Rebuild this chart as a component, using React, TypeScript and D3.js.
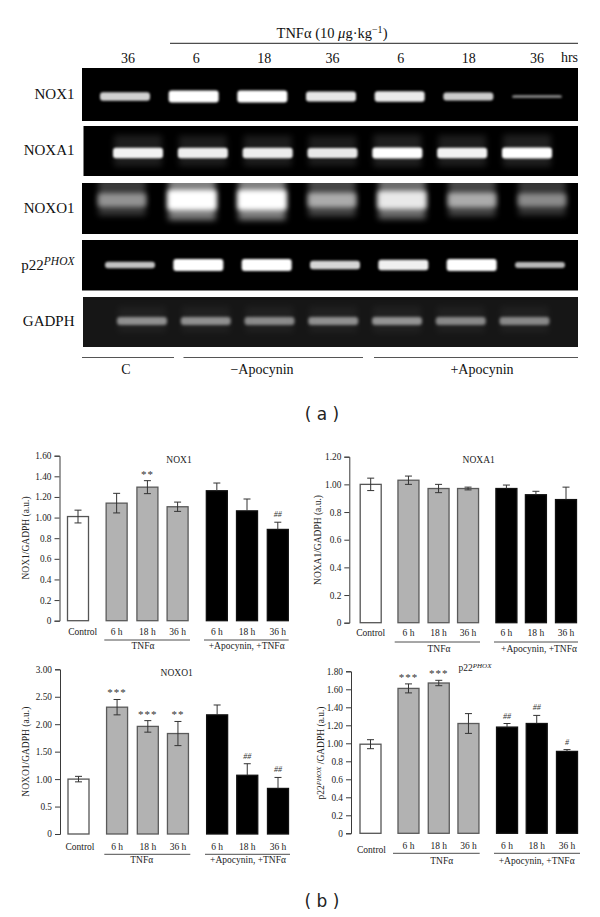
import React, { useEffect, useRef } from "react";
import * as d3 from "d3";

// ---------- data: gel ----------
const laneHours = ["36", "6", "18", "36", "6", "18", "36"];
const nox1Bands = [0.82, 1, 1, 0.9, 0.92, 0.8, 0.5];
const noxa1Bands = [0.95, 0.92, 0.92, 0.9, 1, 0.95, 1];
const noxo1Bands = [0.45, 1, 1, 0.55, 0.85, 0.55, 0.42];
const p22Bands = [0.76, 1, 1, 0.84, 0.94, 1, 0.72];
const gadphBands = [0.5, 0.5, 0.48, 0.5, 0.52, 0.47, 0.47];

// ---------- data: bar charts ----------
const categories = ["Control", "6 h", "18 h", "36 h", "6 h", "18 h", "36 h"];
const nox1Values = [1.01, 1.14, 1.295, 1.105, 1.26, 1.065, 0.885];
const nox1Errors = [0.062, 0.095, 0.063, 0.045, 0.075, 0.115, 0.07];
const nox1Marks = ["", "", "**", "", "", "", "##"];
const nox1Ticks = [0, 0.2, 0.4, 0.6, 0.8, 1, 1.2, 1.4, 1.6];
const nox1TickLabels = ["0", "0.2", "0.4", "0.6", "0.8", "1.00", "1.20", "1.40", "1.60"];

const noxa1Values = [1.0, 1.03, 0.97, 0.97, 0.97, 0.925, 0.89];
const noxa1Errors = [0.045, 0.03, 0.03, 0.01, 0.025, 0.025, 0.09];
const noxa1Marks = ["", "", "", "", "", "", ""];
const noxa1Ticks = [0, 0.2, 0.4, 0.6, 0.8, 1, 1.2];
const noxa1TickLabels = ["0", "0.2", "0.4", "0.6", "0.8", "1.00", "1.20"];

const noxo1Values = [1.0, 2.31, 1.96, 1.83, 2.17, 1.07, 0.83];
const noxo1Errors = [0.05, 0.14, 0.105, 0.22, 0.18, 0.21, 0.2];
const noxo1Marks = ["", "***", "***", "**", "", "##", "##"];
const noxo1Ticks = [0, 0.5, 1, 1.5, 2, 2.5, 3];
const noxo1TickLabels = ["0", "0.5", "1.00", "1.50", "2.00", "2.50", "3.00"];

const p22Values = [0.99, 1.61, 1.67, 1.22, 1.18, 1.22, 0.91];
const p22Errors = [0.05, 0.05, 0.03, 0.11, 0.04, 0.09, 0.02];
const p22Marks = ["", "***", "***", "", "##", "##", "#"];
const p22Ticks = [0, 0.2, 0.4, 0.6, 0.8, 1, 1.2, 1.4, 1.6, 1.8];
const p22TickLabels = ["0", "0.2", "0.4", "0.6", "0.8", "1.00", "1.20", "1.40", "1.60", "1.80"];

// slot order of the seven bars: control, TNF group, apocynin group
const barSlots = [0, 1.28, 2.3, 3.3, 4.6, 5.6, 6.62];
const barFills = ["#ffffff", "#b2b2b2", "#b2b2b2", "#b2b2b2", "#000000", "#000000", "#000000"];

const SERIF = "'Liberation Serif', serif";
const INK = "#3a3a3a";

// ---------- gel layout ----------
const gelRows = [
  { id: "nox1", top: 68, bottom: 121, left: 82, mid: 96.5, first: 125, last: 537, bands: nox1Bands, bg: "#000", blur: 1.2, halo: 0, base: -8, gain: 20, minH: 3, w: 50, label: "NOX1" },
  { id: "noxa1", top: 126, bottom: 176, left: 83.5, mid: 153, first: 138, last: 527, bands: noxa1Bands, bg: "#000", blur: 1.3, halo: 0.12, base: 2, gain: 9, minH: 3, w: 50, label: "NOXA1" },
  { id: "noxo1", top: 183, bottom: 234, left: 82, mid: 200, first: 122, last: 542, bands: noxo1Bands, bg: "#000", blur: 2.4, halo: 0.5, base: 8, gain: 12, minH: 3, w: 49, label: "NOXO1" },
  { id: "p22", top: 240, bottom: 290.5, left: 82, mid: 265, first: 130, last: 540, bands: p22Bands, bg: "#000", blur: 1.3, halo: 0, base: -10, gain: 22, minH: 3, w: 50, label: "p22" },
  { id: "gadph", top: 297, bottom: 347, left: 83, mid: 321, first: 142, last: 524.5, bands: gadphBands, bg: "#161616", blur: 1.8, halo: 0.08, base: 8, gain: 0, minH: 3, w: 50, label: "GADPH" },
];
const gelRight = 578;

function Gel() {
  return (
    <g>
      <defs>
        {gelRows.map((r) => (
          <React.Fragment key={r.id}>
            <clipPath id={`clip-${r.id}`}>
              <rect x={r.left} y={r.top} width={gelRight - r.left} height={r.bottom - r.top} />
            </clipPath>
            <filter id={`core-${r.id}`} x="-30%" y="-200%" width="160%" height="500%">
              <feGaussianBlur stdDeviation={r.blur} />
            </filter>
            <filter id={`halo-${r.id}`} x="-30%" y="-100%" width="160%" height="300%">
              <feGaussianBlur stdDeviation={3.2} />
            </filter>
          </React.Fragment>
        ))}
      </defs>
      {gelRows.map((r) => {
        const lane = d3.scaleLinear().domain([0, r.bands.length - 1]).range([r.first, r.last]);
        return (
          <g key={r.id}>
            <rect x={r.left} y={r.top} width={gelRight - r.left} height={r.bottom - r.top} fill={r.bg} />
            <g clipPath={`url(#clip-${r.id})`}>
              {r.bands.map((v, i) => {
                const h = Math.max(r.minH, r.base + r.gain * v);
                return (
                  <g key={i}>
                    {r.halo > 0 && (
                      <rect x={lane(i) - r.w / 2 + 1} y={r.mid - h * 1.3 - 4} width={r.w - 2} height={h * 2 + 10}
                        fill="#fff" opacity={r.halo * v} filter={`url(#halo-${r.id})`} />
                    )}
                    <rect x={lane(i) - r.w / 2} y={r.mid - h / 2} width={r.w} height={h} rx={3}
                      fill="#fff" opacity={Math.min(1, v)} filter={`url(#core-${r.id})`} />
                  </g>
                );
              })}
            </g>
            <text x={74.5} y={r.id === "gadph" ? r.mid - 0.5 : (r.top + r.bottom) / 2 - 1} dy="0.35em" textAnchor="end"
              fontFamily={SERIF} fontSize={15} fill="#111">
              {r.label}
              {r.id === "p22" && <tspan fontStyle="italic" fontSize={11.5} dy="-5">PHOX</tspan>}
            </text>
          </g>
        );
      })}
      <text x={332} y={33} dy="0.35em" textAnchor="middle" fontFamily={SERIF} fontSize={14.5} fill="#111">
        TNFα (10 <tspan fontStyle="italic">μ</tspan>g·kg<tspan fontSize={10} dy="-5">−1</tspan><tspan dy="5">)</tspan>
      </text>
      <line x1={170} x2={578} y1={43.3} y2={43.3} stroke="#222" strokeWidth={1} />
      {laneHours.map((t, i) => {
        const lane = d3.scaleLinear().domain([0, 6]).range([128, 537]);
        return (
          <text key={i} x={lane(i)} y={58.5} dy="0.35em" textAnchor="middle" fontFamily={SERIF} fontSize={14} fill="#111">{t}</text>
        );
      })}
      <text x={578} y={57.5} dy="0.35em" textAnchor="end" fontFamily={SERIF} fontSize={14} fill="#111">hrs</text>
      {[[82, 174], [183.5, 363], [374, 578]].map(([a, b], i) => (
        <line key={i} x1={a} x2={b} y1={357.5} y2={357.5} stroke="#555" strokeWidth={1.2} />
      ))}
      {[["C", 126], ["−Apocynin", 262], ["+Apocynin", 482]].map(([t, x]) => (
        <text key={t as string} x={x as number} y={369.5} dy="0.35em" textAnchor="middle" fontFamily={SERIF} fontSize={14} fill="#111">{t}</text>
      ))}
    </g>
  );
}

// ---------- bar panels ----------
function Axis({ scale, ticks, labels, x }: any) {
  const ref = useRef<SVGGElement>(null);
  useEffect(() => {
    const axis = d3.axisLeft(scale).tickValues(ticks).tickSize(5).tickPadding(3)
      .tickFormat((_: any, i: number) => labels[i]);
    const g = d3.select(ref.current);
    g.call(axis as any);
    g.selectAll("path,line").attr("stroke", INK).attr("stroke-width", 1);
    g.selectAll("text").attr("font-family", SERIF).attr("font-size", 9.3).attr("fill", "#222");
  }, []);
  return <g ref={ref} transform={`translate(${x},0)`} />;
}

function Panel({ p }: any) {
  const y = d3.scaleLinear().domain([0, p.max]).range([p.y0, p.y1]);
  const x = d3.scaleLinear().domain([0, barSlots[6]]).range([p.c0, p.c6]);
  const bw = 21;
  const txt = { fontFamily: SERIF, fontSize: 9.5, fill: "#222", textAnchor: "middle" as const, dy: "0.35em" };
  return (
    <g>
      <Axis scale={y} ticks={p.ticks} labels={p.tickLabels} x={p.axisX} />
      {p.values.map((v: number, i: number) => {
        const cx = x(barSlots[i]);
        const err = p.errors[i];
        const black = barFills[i] === "#000000";
        const stroke = black ? "#111" : i === 0 ? "#555" : "#5a5a5a";
        return (
          <g key={i}>
            <rect x={cx - bw / 2} y={y(v)} width={bw} height={y(0) - y(v)} fill={barFills[i]} stroke={stroke} strokeWidth={1.3} />
            <g stroke="#333" strokeWidth={1}>
              <line x1={cx} x2={cx} y1={y(v + err)} y2={black ? y(v) : y(v - err)} />
              <line x1={cx - 3.5} x2={cx + 3.5} y1={y(v + err)} y2={y(v + err)} />
              {!black && <line x1={cx - 3.5} x2={cx + 3.5} y1={y(v - err)} y2={y(v - err)} />}
            </g>
            {p.marks[i] && (
              <text x={cx} y={y(v + err) - (p.marks[i][0] === "*" ? 3 : 5)} textAnchor="middle" fontFamily={SERIF}
                fontStyle={p.marks[i][0] === "#" ? "italic" : "normal"}
                fontSize={p.marks[i][0] === "*" ? 11 : 8} letterSpacing={p.marks[i][0] === "*" ? 1 : 0} fill="#333">
                {p.marks[i]}
              </text>
            )}
            <text {...txt} x={cx + (i === 0 ? p.controlDx : 0)} y={i === 0 ? p.labelY + p.controlDy : p.labelY}>{categories[i]}</text>
          </g>
        );
      })}
      <line x1={p.g1[0]} x2={p.g1[1]} y1={p.lineY} y2={p.lineY} stroke={INK} strokeWidth={0.9} />
      <line x1={p.g2[0]} x2={p.g2[1]} y1={p.lineY} y2={p.lineY} stroke={INK} strokeWidth={0.9} />
      <text {...txt} x={p.g1Label} y={p.groupY}>TNFα</text>
      <text {...txt} x={p.g2Label} y={p.groupY}>+Apocynin, +TNFα</text>
      <text {...txt} x={p.titleX} y={p.titleY}>
        {p.title}
        {p.sup && <tspan fontStyle="italic" fontSize={7} dy="-3">{p.sup}</tspan>}
      </text>
      <text {...txt} transform={`translate(${p.yLabelX},${p.yLabelY}) rotate(-90)`}>
        {p.yLabel}
        {p.sup && <tspan fontStyle="italic" fontSize={7} dy="-3">{p.sup}</tspan>}
        {p.sup && <tspan dy="3"> /GADPH (a.u.)</tspan>}
      </text>
    </g>
  );
}

const panels = [
  { title: "NOX1", yLabel: "NOX1/GADPH (a.u.)", max: 1.6, values: nox1Values, errors: nox1Errors, marks: nox1Marks, ticks: nox1Ticks, tickLabels: nox1TickLabels,
    axisX: 59.5, y0: 620.7, y1: 455.7, c0: 78, c6: 277.8, labelY: 632, controlDx: 4.7, controlDy: 0, lineY: 640, groupY: 645.7, g1: [104.3, 190], g2: [204, 288.7], g1Label: 143, g2Label: 246.7, titleX: 179, titleY: 460, yLabelX: 25.7, yLabelY: 538 },
  { title: "NOXA1", yLabel: "NOXA1/GADPH (a.u.)", max: 1.2, values: noxa1Values, errors: noxa1Errors, marks: noxa1Marks, ticks: noxa1Ticks, tickLabels: noxa1TickLabels,
    axisX: 349.3, y0: 622.7, y1: 456.7, c0: 370.7, c6: 566, labelY: 633, controlDx: 0, controlDy: 0, lineY: 642, groupY: 649, g1: [394.7, 480], g2: [494, 578], g1Label: 439, g2Label: 539, titleX: 478.7, titleY: 460, yLabelX: 317.7, yLabelY: 540 },
  { title: "NOXO1", yLabel: "NOXO1/GADPH (a.u.)", max: 3, values: noxo1Values, errors: noxo1Errors, marks: noxo1Marks, ticks: noxo1Ticks, tickLabels: noxo1TickLabels,
    axisX: 60, y0: 834, y1: 669.3, c0: 78.5, c6: 278, labelY: 847, controlDx: 1.5, controlDy: 0, lineY: 854.3, groupY: 860, g1: [104.3, 190.3], g2: [205, 290], g1Label: 141.7, g2Label: 248, titleX: 176.7, titleY: 673, yLabelX: 25.7, yLabelY: 751.7 },
  { title: "p22", sup: "PHOX", yLabel: "p22", max: 1.8, values: p22Values, errors: p22Errors, marks: p22Marks, ticks: p22Ticks, tickLabels: p22TickLabels,
    axisX: 351, y0: 833.3, y1: 671.3, c0: 370.5, c6: 567, labelY: 846, controlDx: 1, controlDy: 4, lineY: 853.3, groupY: 860.7, g1: [393, 479.7], g2: [494, 580], g1Label: 441.7, g2Label: 536.7, titleX: 475, titleY: 668, yLabelX: 321, yLabelY: 753 },
];

export default function App() {
  return (
    <svg width={600} height={917} viewBox="0 0 600 917"
      style={{ position: "absolute", left: 0, top: 0, display: "block", background: "#fff" }}>
      <Gel />
      <text x={322} y={414} dy="0.35em" textAnchor="middle" fontFamily="'DejaVu Sans', sans-serif" fontSize={17} fill="#222" xmlSpace="preserve">( a )</text>
      {panels.map((p) => <Panel key={p.title} p={p} />)}
      <text x={322} y={901} dy="0.35em" textAnchor="middle" fontFamily="'DejaVu Sans', sans-serif" fontSize={17} fill="#222" xmlSpace="preserve">( b )</text>
    </svg>
  );
}
